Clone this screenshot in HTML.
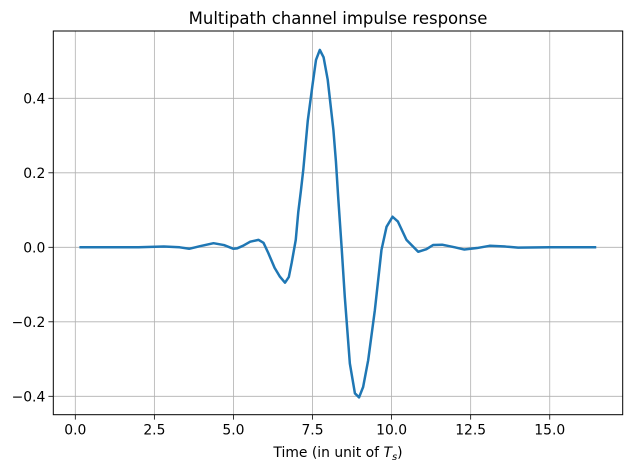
<!DOCTYPE html>
<html><head><meta charset="utf-8"><style>
html,body{margin:0;padding:0;background:#fff;}
svg{display:block;font-family:"DejaVu Sans","Liberation Sans",sans-serif;}
</style></head><body>
<svg id="chart" width="632" height="472" viewBox="0 0 632 472">
<text x="338" y="24" text-anchor="middle" font-size="16.5">Multipath channel impulse response</text>
<g id="grid"></g>
<g id="ticks"></g>
<path id="line" fill="none" stroke="#1f77b4" stroke-width="2.5" stroke-linejoin="round"/>
<rect x="53.3" y="31" width="569.4" height="383.7" fill="none" stroke="#000" stroke-width="1"/>
<text x="338" y="457" text-anchor="middle" font-size="13.9">Time (in unit of <tspan font-style="italic">T</tspan><tspan font-style="italic" font-size="10" dy="3">s</tspan><tspan dy="-3">)</tspan></text>
</svg>
<script>
const times=[0.13,1.0,2.0,2.8,3.3,3.6,3.94,4.37,4.7,5.0,5.11,5.3,5.53,5.79,5.95,6.1,6.3,6.47,6.63,6.75,6.84,6.97,7.05,7.13,7.21,7.35,7.5,7.61,7.73,7.85,7.98,8.16,8.24,8.31,8.42,8.52,8.68,8.84,8.97,9.1,9.26,9.47,9.68,9.84,10.03,10.2,10.47,10.84,11.1,11.31,11.6,12.0,12.3,12.7,13.1,13.6,14.0,15.0,16.47];
const values=[0,0,0,0.002,0,-0.004,0.003,0.011,0.006,-0.004,-0.003,0.004,0.015,0.02,0.012,-0.015,-0.055,-0.079,-0.095,-0.08,-0.042,0.02,0.095,0.15,0.21,0.34,0.436,0.503,0.530,0.51,0.45,0.315,0.23,0.136,0.0,-0.133,-0.312,-0.392,-0.403,-0.375,-0.303,-0.169,-0.007,0.055,0.082,0.069,0.02,-0.012,-0.005,0.006,0.007,0.0,-0.006,-0.002,0.004,0.002,-0.001,0,0];
const xTicks=[0,2.5,5,7.5,10,12.5,15];
const xTickLabels=["0.0","2.5","5.0","7.5","10.0","12.5","15.0"];
const yTicks=[-0.4,-0.2,0,0.2,0.4];
const yTickLabels=["−0.4","−0.2","0.0","0.2","0.4"];
const L=53.3,R=622.7,T=31,B=414.7;
function sx(t){return 75.3+t*31.63;}
function sy(v){return 247.3-v*372.5;}
const NS="http://www.w3.org/2000/svg";
const grid=document.getElementById('grid'),ticks=document.getElementById('ticks');
function mk(tag,attrs,parent){const e=document.createElementNS(NS,tag);for(const k in attrs)e.setAttribute(k,attrs[k]);parent.appendChild(e);return e;}
xTicks.forEach((t,i)=>{const x=sx(t);
 const g=mk('line',{x1:x,x2:x,y1:T,y2:B,stroke:'#b0b0b0','stroke-width':0.8},grid);
 
 
 const tk=mk('line',{x1:x,x2:x,y1:B,y2:B+4.9,stroke:'#000','stroke-width':0.8},ticks);
 
 
 const tx=mk('text',{x:x,y:B+20,'text-anchor':'middle','font-size':13.9},ticks);
 
 
 tx.textContent=xTickLabels[i];});
yTicks.forEach((v,i)=>{const y=sy(v);
 const g=mk('line',{x1:L,x2:R,y1:y,y2:y,stroke:'#b0b0b0','stroke-width':0.8},grid);
 
 
 const tk=mk('line',{x1:L-4.9,x2:L,y1:y,y2:y,stroke:'#000','stroke-width':0.8},ticks);
 
 
 const tx=mk('text',{x:L-8,y:y+5,'text-anchor':'end','font-size':13.9},ticks);
 
 
 tx.textContent=yTickLabels[i];});
document.getElementById('line').setAttribute('d',times.map((t,i)=>(i?'L':'M')+sx(t).toFixed(2)+','+sy(values[i]).toFixed(2)).join(''));
</script>
</body></html>
